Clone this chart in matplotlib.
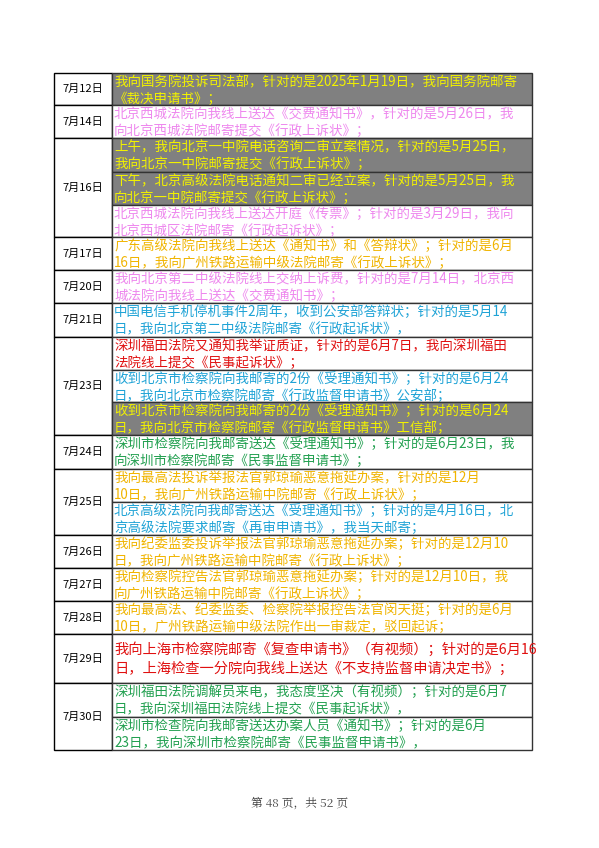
import matplotlib
matplotlib.use("Agg")
import matplotlib.pyplot as plt
from matplotlib.patches import Rectangle

plt.rcParams['font.family'] = ['Noto Sans CJK SC', 'DejaVu Sans']

dates = ["7月12日", "7月14日", "7月16日", "7月17日", "7月20日", "7月21日", "7月23日",
         "7月24日", "7月25日", "7月26日", "7月27日", "7月28日", "7月29日", "7月30日"]
# row boundaries (pixel y) of each date block and its sub-cells
row_edges = [[73, 105], [105, 138], [138, 172, 205, 237], [237, 270], [270, 303], [303, 337],
             [337, 370, 402, 435], [435, 469], [469, 502, 535], [535, 568], [568, 601],
             [601, 634], [634, 683], [683, 717, 750]]

YEL, PINK, ORG, BLUE, RED, GRN = "#f2f200", "#ee88ee", "#f0b400", "#1fa3d6", "#e01010", "#22a050"
GRAY = "#808080"

entries = [
    [("我向国务院投诉司法部，针对的是2025年1月19日，我向国务院邮寄", "《裁决申请书》；", YEL, GRAY)],
    [("北京西城法院向我线上送达《交费通知书》，针对的是5月26日，我", "向北京西城法院邮寄提交《行政上诉状》；", PINK, "white")],
    [("上午，我向北京一中院电话咨询二审立案情况，针对的是5月25日，", "我向北京一中院邮寄提交《行政上诉状》；", YEL, GRAY),
     ("下午，北京高级法院电话通知二审已经立案，针对的是5月25日，我", "向北京一中院邮寄提交《行政上诉状》；", YEL, GRAY),
     ("北京西城法院向我线上送达开庭《传票》；针对的是3月29日，我向", "北京西城区法院邮寄《行政起诉状》；", PINK, "white")],
    [("广东高级法院向我线上送达《通知书》和《答辩状》；针对的是6月", "16日，我向广州铁路运输中级法院邮寄《行政上诉状》；", ORG, "white")],
    [("我向北京第二中级法院线上交纳上诉费，针对的是7月14日，北京西", "城法院向我线上送达《交费通知书》；", PINK, "white")],
    [("中国电信手机停机事件2周年，收到公安部答辩状；针对的是5月14", "日，我向北京第二中级法院邮寄《行政起诉状》，", BLUE, "white")],
    [("深圳福田法院又通知我举证质证，针对的是6月7日，我向深圳福田", "法院线上提交《民事起诉状》；", RED, "white"),
     ("收到北京市检察院向我邮寄的2份《受理通知书》；针对的是6月24", "日，我向北京市检察院邮寄《行政监督申请书》公安部；", BLUE, "white"),
     ("收到北京市检察院向我邮寄的2份《受理通知书》；针对的是6月24", "日，我向北京市检察院邮寄《行政监督申请书》工信部；", YEL, GRAY)],
    [("深圳市检察院向我邮寄送达《受理通知书》；针对的是6月23日，我", "向深圳市检察院邮寄《民事监督申请书》；", GRN, "white")],
    [("我向最高法投诉举报法官郭琼瑜恶意拖延办案，针对的是12月", "10日，我向广州铁路运输中院邮寄《行政上诉状》；", ORG, "white"),
     ("北京高级法院向我邮寄送达《受理通知书》；针对的是4月16日，北", "京高级法院要求邮寄《再审申请书》，我当天邮寄；", BLUE, "white")],
    [("我向纪委监委投诉举报法官郭琼瑜恶意拖延办案；针对的是12月10", "日，我向广州铁路运输中院邮寄《行政上诉状》；", ORG, "white")],
    [("我向检察院控告法官郭琼瑜恶意拖延办案；针对的是12月10日，我", "向广州铁路运输中院邮寄《行政上诉状》；", ORG, "white")],
    [("我向最高法、纪委监委、检察院举报控告法官闵天挺；针对的是6月", "10日，广州铁路运输中级法院作出一审裁定，驳回起诉；", ORG, "white")],
    [("我向上海市检察院邮寄《复查申请书》（有视频）；针对的是6月16", "日，上海检查一分院向我线上送达《不支持监督申请决定书》；", RED, "white")],
    [("深圳福田法院调解员来电，我态度坚决（有视频）；针对的是6月7", "日，我向深圳福田法院线上提交《民事起诉状》，", GRN, "white"),
     ("深圳市检查院向我邮寄送达办案人员《通知书》；针对的是6月", "23日，我向深圳市检察院邮寄《民事监督申请书》，", GRN, "white")],
]

X0, X1, X2 = 54, 112, 532

fig = plt.figure(figsize=(5.99, 8.48), dpi=100)
ax = fig.add_axes([0, 0, 1, 1])
ax.set_xlim(0, 599)
ax.set_ylim(848, 0)
ax.axis("off")

for date, edges, ents in zip(dates, row_edges, entries):
    top, bot = edges[0], edges[-1]
    ax.add_patch(Rectangle((X0, top), X1 - X0, bot - top, fc="white", ec="black", lw=1.0))
    ax.text((X0 + X1) / 2, (top + bot) / 2, date, ha="center", va="center", fontsize=8, color="black")
    for i, (l1, l2, col, fill) in enumerate(ents):
        t, b = edges[i], edges[i + 1]
        cell = Rectangle((X1, t), X2 - X1, b - t, fc=fill, ec="#333333", lw=1.0)
        ax.add_patch(cell)
        big = (date == "7月29日")
        fs = 10.3 if big else 9.7
        if big:
            y1 = t + (b - t) / 2 - 9
            dy = 19
        else:
            y1 = t + 9
            dy = 17
        tx1 = ax.text(X1 + 2, y1, l1, ha="left", va="center", fontsize=fs, color=col)
        tx2 = ax.text(X1 + 2, y1 + dy, l2, ha="left", va="center", fontsize=fs, color=col)
        for tx in (tx1, tx2):
            tx.set_clip_path(cell)

ax.text(300, 803, "第 48 页，共 52 页", ha="center", va="center", fontsize=8.5, color="#444444",
        family=["Noto Serif CJK SC", "Noto Sans CJK SC", "DejaVu Sans"])

fig.savefig("out.png", dpi=100)
